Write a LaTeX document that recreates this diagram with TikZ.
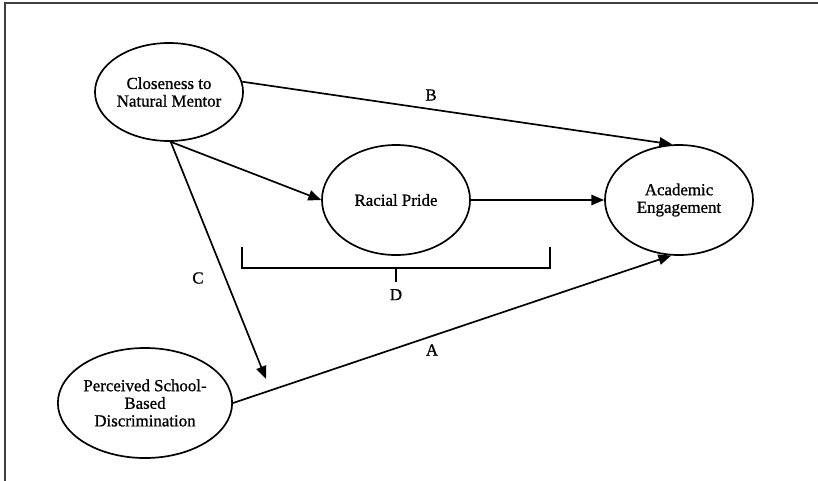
\documentclass[tikz,border=0pt]{standalone}
\usepackage{fontspec}
\setmainfont[FakeBold=0.9]{Liberation Serif}
\usetikzlibrary{arrows.meta,shapes.geometric,positioning}
\tikzset{
    construct/.style={ellipse, draw=black, line width=1.2pt, inner sep=0pt,
        minimum width=3.7cm, minimum height=2.4cm, align=center,
        font=\fontsize{12}{12.5}\selectfont},
    effect/.style={line width=1.2pt, -{Triangle[length=3.2mm, width=2.6mm]}},
    effectlabel/.style={font=\fontsize{12}{12}\selectfont},
}
\begin{document}
\begin{tikzpicture}[x=0.025cm, y=-0.025cm,
framed/.style={draw=black!75, line width=1.4pt},
]
\useasboundingbox (0,0) rectangle (818,481);
\draw[framed] (818,3) -- (5,3) -- (5,481);

\node (close) [construct, minimum height=2.45cm] at (169,92) {Closeness to\\Natural Mentor};
\node (pride) [construct, minimum height=2.75cm] at (396,200) {Racial Pride};
\node (acad) [construct, minimum height=2.75cm] at (679,200) {Academic\\Engagement};
\node (perc) [construct, minimum height=2.75cm] at (145,403) {Perceived School-\\Based\\Discrimination};

\coordinate (ctip) at (266,379);

\draw[effect] (close.8) -- (acad.97);
\draw[effect] (close.272) -- (pride.west);
\draw[effect] (pride.east) -- (acad.west);
\draw[effect] (close.272) -- (ctip);
\draw[effect] (perc.east) -- (acad.262);

% bracket for D
\coordinate (bl) at (242,247);
\coordinate (br) at (550,247);
\coordinate (bm) at (396,268);
\draw[line width=1.2pt] (bl) |- (br |- bm) -- (br);
\draw[line width=1.2pt] (bm) -- ++(0,14) coordinate (bd);

\node (lb) [effectlabel] at (431,95) {B};
\node (lc) [effectlabel] at (198,278) {C};
\node (ld) [effectlabel, below=1.5pt of bd] {D};
\node (la) [effectlabel] at (432,350) {A};
\end{tikzpicture}
\end{document}
